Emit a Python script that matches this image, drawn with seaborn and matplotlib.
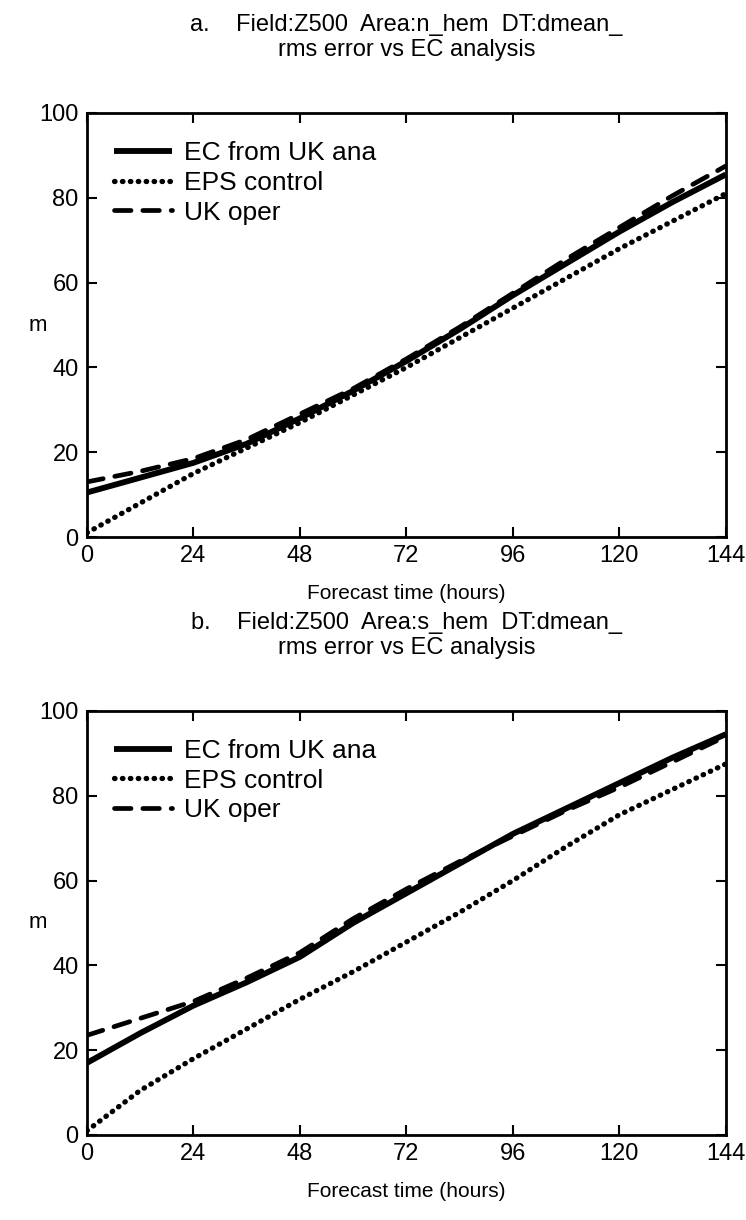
import matplotlib
matplotlib.use("Agg")
import matplotlib.pyplot as plt
import seaborn as sns
import pandas as pd

# Forecast lead times (hours)
hours = [0, 12, 24, 36, 48, 60, 72, 84, 96, 108, 120, 132, 144]

# Panel a: northern hemisphere Z500 rms error (m)
nh_ec_from_uk = [10.5, 14, 17.5, 22, 28, 34.5, 41.5, 49, 57, 64.5, 72, 79, 85.5]
nh_eps_control = [1, 8, 15, 21, 27, 33.5, 40, 47, 54, 61, 68, 74.5, 81]
nh_uk_oper = [13, 15.5, 18.5, 23, 29, 35, 42, 49.5, 57.5, 65.5, 73, 80.5, 87.5]

# Panel b: southern hemisphere Z500 rms error (m)
sh_ec_from_uk = [17, 24, 30.5, 36, 42, 50, 57, 64, 71, 77, 83, 89, 94.5]
sh_eps_control = [1, 10.5, 18, 25, 32, 38.5, 45.5, 52.5, 60, 68, 75.5, 81.5, 87.5]
sh_uk_oper = [23.5, 27.5, 31.5, 37, 43, 51, 58, 64.5, 70.5, 76.5, 82, 88, 94]

series_names = ["EC from UK ana", "EPS control", "UK oper"]
panel_titles = [
    "a.    Field:Z500  Area:n_hem  DT:dmean_\nrms error vs EC analysis",
    "b.    Field:Z500  Area:s_hem  DT:dmean_\nrms error vs EC analysis",
]
x_ticks = [0, 24, 48, 72, 96, 120, 144]
y_ticks = [0, 20, 40, 60, 80, 100]

sns.set_style("ticks")
plt.rcParams["font.family"] = ["Liberation Sans", "DejaVu Sans"]
plt.rcParams["text.color"] = "black"
plt.rcParams["axes.labelcolor"] = "black"
plt.rcParams["xtick.color"] = "black"
plt.rcParams["ytick.color"] = "black"
plt.rcParams["xtick.direction"] = "in"
plt.rcParams["ytick.direction"] = "in"

fig = plt.figure(figsize=(7.46, 12.2), dpi=100)
ax_a = fig.add_axes([0.1166, 0.5598, 0.8564, 0.3476])
ax_b = fig.add_axes([0.1166, 0.0697, 0.8564, 0.3476])

def frame(hrs, ec, eps, uk):
    rows = []
    for name, vals in zip(series_names, [ec, eps, uk]):
        for h, v in zip(hrs, vals):
            rows.append({"hours": h, "rms": v, "series": name})
    return pd.DataFrame(rows)

styles = {
    "EC from UK ana": dict(ls="-", lw=4.2),
    "EPS control": dict(ls=(0, (0.1, 1.4)), lw=3.8),
    "UK oper": dict(ls=(0, (3.5, 2.5)), lw=3.4),
}

for ax, title, data in [
    (ax_a, panel_titles[0], frame(hours, nh_ec_from_uk, nh_eps_control, nh_uk_oper)),
    (ax_b, panel_titles[1], frame(hours, sh_ec_from_uk, sh_eps_control, sh_uk_oper)),
]:
    for name in series_names:
        sub = data[data["series"] == name]
        sns.lineplot(data=sub, x="hours", y="rms", ax=ax, color="black",
                     label=name, solid_capstyle="butt", dash_capstyle="round",
                     **styles[name])
    ax.set_xlim(0, 144)
    ax.set_ylim(0, 100)
    ax.set_xticks(x_ticks)
    ax.set_yticks(y_ticks)
    ax.tick_params(axis="both", which="both", top=True, right=True,
                   length=7, width=1.5, labelsize=17, pad=6)
    for sp in ax.spines.values():
        sp.set_linewidth(2.0)
        sp.set_color("black")
    ax.set_xlabel("Forecast time (hours)", fontsize=15, labelpad=12)
    ax.set_ylabel("m", fontsize=16, rotation=0, va="center", ha="center")
    ax.yaxis.set_label_coords(-0.077, 0.5)
    ax.set_title(title, fontsize=17, linespacing=1.2, pad=41)
    ax.legend(loc="upper left", frameon=False, fontsize=19,
              handlelength=2.2, handletextpad=0.45, labelspacing=0.22,
              bbox_to_anchor=(0.005, 0.99))

fig.savefig("out.png", dpi=100, facecolor="white")
